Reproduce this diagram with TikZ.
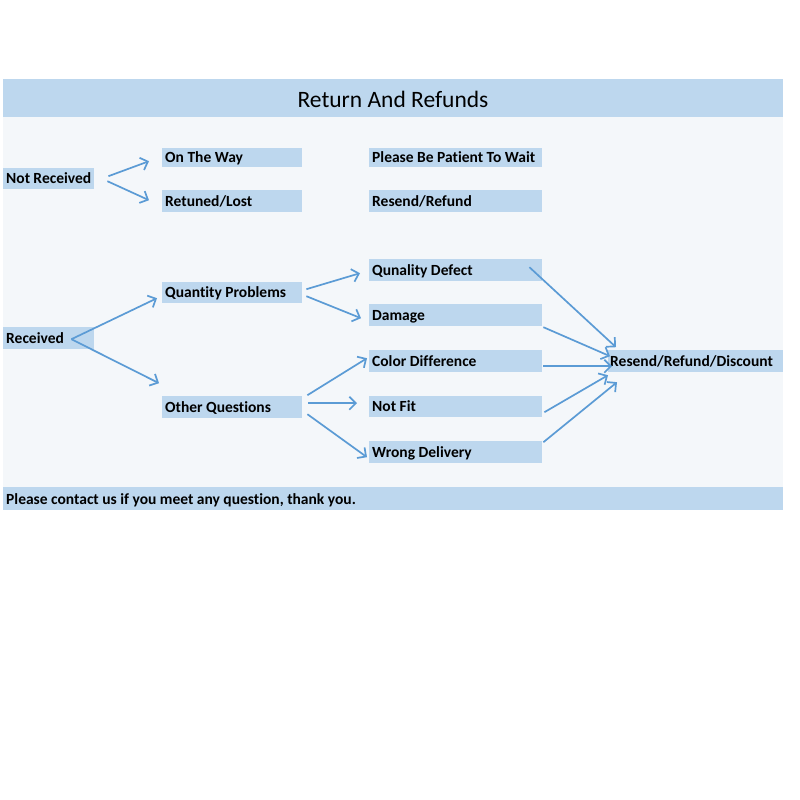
\documentclass[tikz,border=0pt]{standalone}
\usepackage{fontspec}
\setmainfont{Carlito}[Ligatures=NoCommon]
\usetikzlibrary{arrows.meta,calc}
\definecolor{bandblue}{HTML}{BDD7EE}
\definecolor{panelgray}{HTML}{F4F7FA}
\definecolor{arrowblue}{HTML}{5B9BD5}
\newcommand\lefttxt[2]{\hbox to #1pt{#2\hfil}}
\tikzset{
  box/.style={fill=bandblue, anchor=north west, inner xsep=3pt, inner ysep=0pt,
    text height=14pt, text depth=3.5pt,
    font=\bfseries\fontsize{15.5}{18}\selectfont},
  arr/.style={draw=arrowblue, line width=1.7pt, -{Straight Barb[length=6.5pt,width=13pt]}}
}
\begin{document}
\begin{tikzpicture}[x=1pt,y=-1pt]
\useasboundingbox (0,0) rectangle (800,800);
\fill[white] (0,0) rectangle (800,800);
\fill[panelgray] (3,79) rectangle (783,510);
\fill[bandblue] (3,79) rectangle (783,117);
\fill[bandblue] (3,487) rectangle (783,510);
\node[font=\fontsize{23.5}{28}\selectfont] (title) at (393,99.5) {Return And Refunds};
\node[anchor=west, inner sep=0pt, font=\bfseries\fontsize{15.5}{18}\selectfont] (foot) at (6,500.5) {Please contact us if you meet any question, thank you.};

\node[box, minimum height=21pt] (nr) at (3,168) {\lefttxt{85}{Not Received}};
\node[box, minimum height=19pt] (otw) at (162,148) {\lefttxt{134}{On The Way}};
\node[box, minimum height=22pt] (rl) at (162,190) {\lefttxt{134}{Retuned/Lost}};
\node[box, minimum height=19pt] (pb) at (369,148) {\lefttxt{167}{Please Be Patient To Wait}};
\node[box, minimum height=22pt] (rs) at (369,190) {\lefttxt{167}{Resend/Refund}};

\node[box, minimum height=22pt] (rc) at (3,327) {\lefttxt{85}{Received}};
\node[box, minimum height=21pt] (qp) at (162,282) {\lefttxt{134}{Quantity Problems}};
\node[box, minimum height=22pt] (oq) at (162,396) {\lefttxt{134}{Other Questions}};

\node[box, minimum height=22pt] (qd) at (369,259) {\lefttxt{167}{Qunality Defect}};
\node[box, minimum height=22pt] (dm) at (369,304) {\lefttxt{167}{Damage}};
\node[box, minimum height=22pt] (cd) at (369,350) {\lefttxt{167}{Color Difference}};
\node[box, minimum height=21pt] (nf) at (369,396) {\lefttxt{167}{Not Fit}};
\node[box, minimum height=22pt] (wd) at (369,441) {\lefttxt{167}{Wrong Delivery}};
\node[box, minimum height=22pt, inner xsep=2pt] (rrd) at (608,350) {\lefttxt{171}{Resend/Refund/Discount}};

\draw[arr] ($(nr.east)+(14,-2.5)$) -- ($(otw.west)+(-13,3.5)$);
\draw[arr] ($(nr.east)+(13,2.5)$) -- ($(rl.west)+(-13,-1)$);
\draw[arr] ($(rc.east)+(-23,1)$) -- ($(qp.west)+(-5,5.5)$);
\draw[arr] ($(rc.east)+(-23,1)$) -- ($(oq.west)+(-3,-24)$);
\draw[arr] ($(qp.east)+(4,-3.5)$) -- ($(qd.west)+(-9,3)$);
\draw[arr] ($(qp.east)+(4,3.5)$) -- ($(dm.west)+(-8,3)$);
\draw[arr] ($(oq.east)+(5,-12)$) -- ($(cd.west)+(-2,-3)$);
\draw[arr] ($(oq.east)+(6,-4)$) -- ($(nf.west)+(-12,-3.5)$);
\draw[arr] ($(oq.east)+(5,7)$) -- ($(wd.west)+(-2,5)$);
\draw[arr] ($(qd.east)+(-13,-3)$) -- ($(rrd.west)+(8,-14)$);
\draw[arr] ($(dm.east)+(1,12)$) -- ($(rrd.west)+(2,-5)$);
\draw[arr] ($(cd.east)+(1,5)$) -- ($(rrd.west)+(4,5)$);
\draw[arr] ($(nf.east)+(2,5.5)$) -- ($(rrd.west)+(0,14)$);
\draw[arr] ($(wd.east)+(1,-10)$) -- ($(rrd.west)+(9,21)$);
\end{tikzpicture}
\end{document}
